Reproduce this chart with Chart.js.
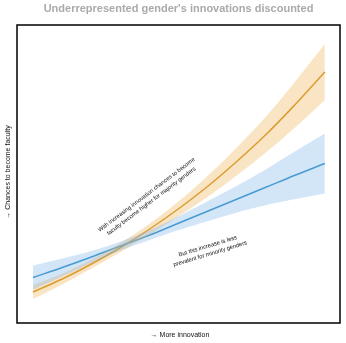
<!DOCTYPE html>
<html><head><meta charset="utf-8">
<script src="https://cdn.jsdelivr.net/npm/chart.js@4/dist/chart.umd.min.js"></script>
<style>html,body{margin:0;padding:0;background:#fff;}canvas{display:block;}</style>
</head><body>
<canvas id="c" width="346" height="343"></canvas>
<script>
// Innovation level (arbitrary units)
const innovation = [0,10,20,30,40,50,60,70,80,90,100];
const majorityPx = [292,279,264,247.5,229,208.5,186,161,134,104,72];
const majorityHalf = [7,5.5,4.5,4.5,5.5,7.5,10.5,14,18,23,28];
const minorityPx = [277.5,267.5,257,246,235,223,211,199,187,175,163.5];
const minorityHalf = [12,9,6,4.5,5,7,10,13.5,18,24,30];
const titleText = "Underrepresented gender's innovations discounted";
const xTitle = "\u2192 More innovation";
const yTitle = "\u2192 Chances to become faculty";
const note1 = ["With increasing innovation chances to become","faculty become higher for majority genders"];
const note2 = ["But this increase is less","prevalent for minority genders"];

const toVal = p => (323 - p) / 2.98;
const majority = majorityPx.map(toVal);
const majorityHi = majorityPx.map((p,i)=>toVal(p - majorityHalf[i]));
const majorityLo = majorityPx.map((p,i)=>toVal(p + majorityHalf[i]));
const minority = minorityPx.map(toVal);
const minorityHi = minorityPx.map((p,i)=>toVal(p - minorityHalf[i]));
const minorityLo = minorityPx.map((p,i)=>toVal(p + minorityHalf[i]));
const pts = arr => arr.map((v,i)=>({x:innovation[i], y:v}));

const ORANGE = '#cf880e', ORANGE_BAND = 'rgba(240,188,105,0.4)';
const BLUE = '#2f8fc6', BLUE_BAND = 'rgba(120,180,235,0.33)';

const deco = {
  id:'deco',
  afterDraw(chart){
    const ctx = chart.ctx, a = chart.chartArea;
    ctx.save();
    ctx.strokeStyle = '#000';
    ctx.lineWidth = 1.5;
    ctx.strokeRect(a.left, a.top, a.right - a.left, a.bottom - a.top);
    ctx.fillStyle = '#aaaaaa';
    ctx.font = 'bold 11px "Liberation Sans", Arial, sans-serif';
    ctx.textAlign = 'center'; ctx.textBaseline = 'middle';
    ctx.fillText(titleText, 178.5, 9);
    ctx.fillStyle = '#111';
    ctx.font = '7px "Liberation Sans", Arial, sans-serif';
    ctx.fillText(xTitle, 180, 335);
    ctx.save(); ctx.translate(8, 172); ctx.rotate(-Math.PI/2);
    ctx.fillText(yTitle, 0, 0); ctx.restore();
    ctx.font = '5.8px "Liberation Sans", Arial, sans-serif';
    ctx.save(); ctx.translate(149, 198); ctx.rotate(-37*Math.PI/180);
    ctx.fillText(note1[0], 0, -4); ctx.fillText(note1[1], 0, 4); ctx.restore();
    ctx.save(); ctx.translate(209, 250); ctx.rotate(-17*Math.PI/180);
    ctx.fillText(note2[0], 0, -4); ctx.fillText(note2[1], 0, 4); ctx.restore();
    ctx.restore();
  }
};

new Chart(document.getElementById('c'), {
  type:'line',
  data:{datasets:[
    {data:pts(minorityHi), borderWidth:0, pointRadius:0, fill:false, tension:0.4},
    {data:pts(minorityLo), borderWidth:0, pointRadius:0, fill:'-1', backgroundColor:BLUE_BAND, tension:0.4},
    {data:pts(majorityHi), borderWidth:0, pointRadius:0, fill:false, tension:0.4},
    {data:pts(majorityLo), borderWidth:0, pointRadius:0, fill:'-1', backgroundColor:ORANGE_BAND, tension:0.4},
    {data:pts(minority), borderColor:BLUE, borderWidth:1.5, pointRadius:0, fill:false, tension:0.4},
    {data:pts(majority), borderColor:ORANGE, borderWidth:1.5, pointRadius:0, fill:false, tension:0.4}
  ]},
  options:{
    responsive:false, animation:false,
    layout:{padding:{left:17, top:25, right:6, bottom:20}},
    plugins:{legend:{display:false}, tooltip:{enabled:false}},
    scales:{
      x:{type:'linear', min:-5.5, max:105.2, display:false},
      y:{type:'linear', min:0, max:100, display:false}
    }
  },
  plugins:[deco]
});
</script>
</body></html>
